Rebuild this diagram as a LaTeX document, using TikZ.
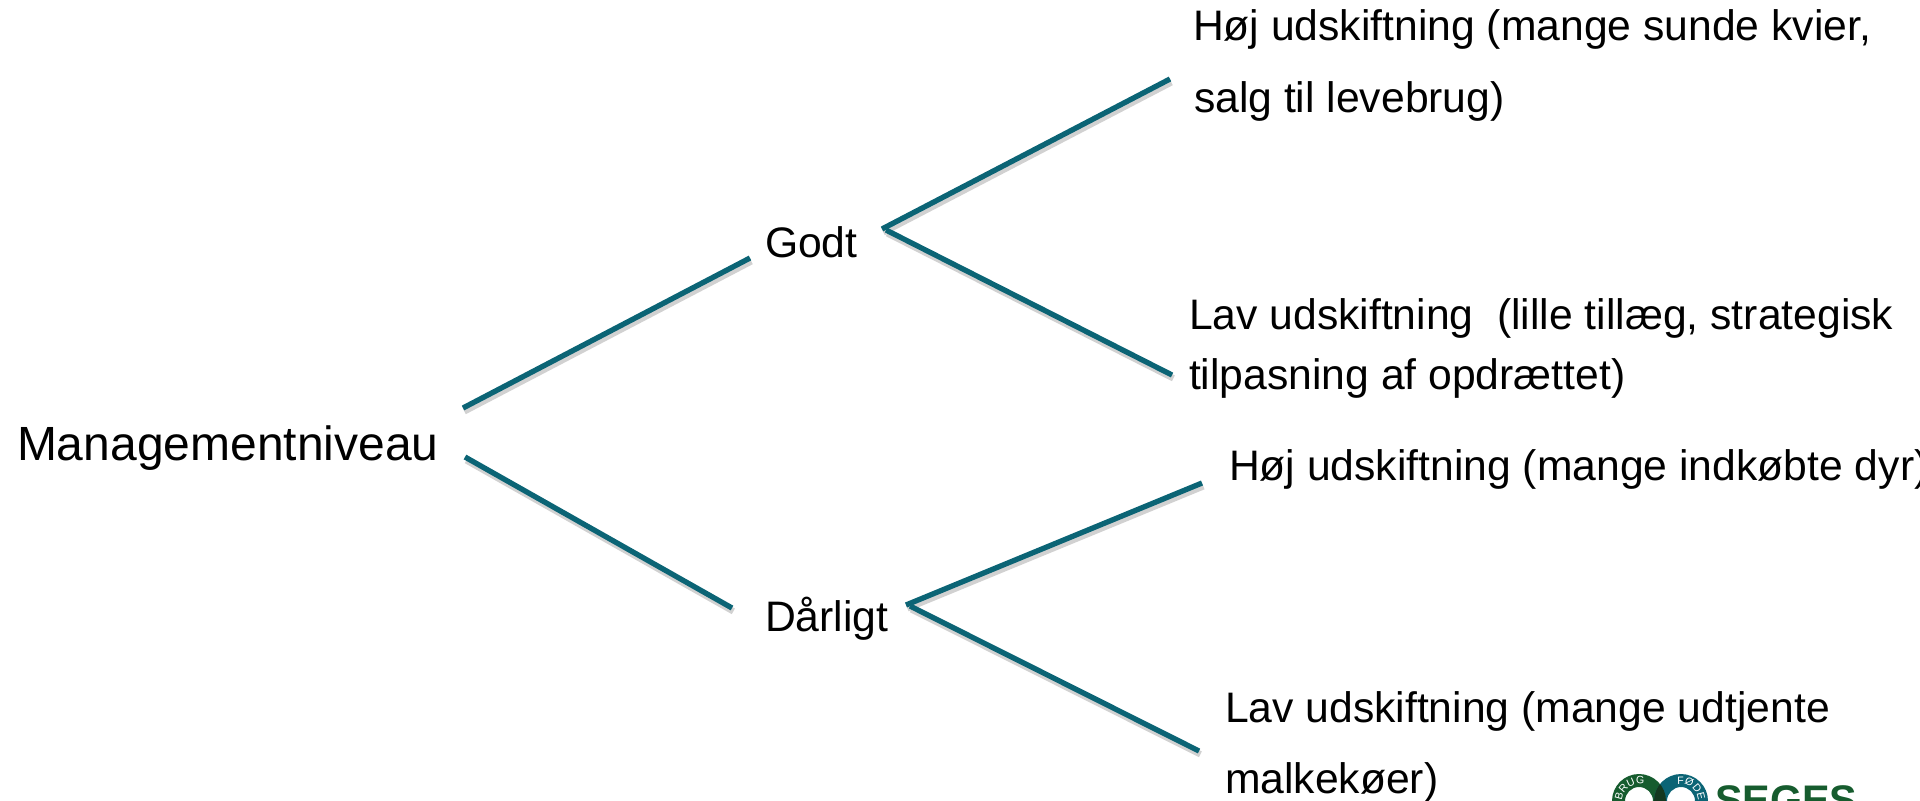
\documentclass[tikz,border=0pt]{standalone}
\usepackage{fontspec}
\setmainfont{Liberation Sans}
\usetikzlibrary{decorations.text}
\definecolor{teal1}{HTML}{0B6475}
\definecolor{segesg}{HTML}{165C2E}
\definecolor{segesd}{HTML}{14381F}
\tikzset{
  x=0.75pt,y=-0.75pt,
  branch/.style={draw=teal1,line width=4pt},
  shadowline/.style={draw=black,line width=4.8pt,opacity=.18},
  lab/.style={anchor=base west,inner sep=0pt,outer sep=0pt,font=\fontsize{36pt}{42pt}\selectfont,text=black},
  labsmall/.style={lab,font=\fontsize{32pt}{38pt}\selectfont},
  ringtext/.style={decorate,decoration={text along path,text align=center,
     text={|\fontsize{8pt}{9pt}\selectfont\color{white}|#1}}},
}
\begin{document}
\begin{tikzpicture}
\useasboundingbox (0,0) rectangle (1920,800);
\clip (0,0) rectangle (1920,800);
\coordinate (a1) at (463,408); \coordinate (a2) at (750,258);
\coordinate (b1) at (465,457); \coordinate (b2) at (732,608);
\coordinate (g0) at (882,229); \coordinate (g1) at (1170,79);
\coordinate (g3) at (886,230); \coordinate (g2) at (1172,375);
\coordinate (d0) at (906,605); \coordinate (d1) at (1202,483);
\coordinate (d3) at (910,606); \coordinate (d2) at (1199,751);
\foreach \p/\q in {a1/a2,b1/b2,g0/g1,g3/g2,d0/d1,d3/d2}{
  \draw[shadowline] ([xshift=1pt,yshift=-2.5pt]\p) -- ([xshift=1pt,yshift=-2.5pt]\q);
  \draw[branch] (\p) -- (\q);
}
\node[lab] (root) at (17,460) {Managementniveau};
\node[labsmall] (godt) at (765,257) {Godt};
\node[labsmall] (darligt) at (765,631) {Dårligt};
\node[labsmall] (t1) at (1193,40) {Høj udskiftning (mange sunde kvier,};
\node[labsmall] (t2) at (1194,112) {salg til levebrug)};
\node[labsmall] (t3) at (1189,329) {Lav udskiftning\ \ (lille tillæg, strategisk};
\node[labsmall] (t4) at (1189,389) {tilpasning af opdrættet)};
\node[labsmall] (t5) at (1229,480) {Høj udskiftning (mange indkøbte dyr)};
\node[labsmall] (t6) at (1225,722) {Lav udskiftning (mange udtjente};
\node[labsmall] (t7) at (1225,793) {malkekøer)};
% logo
\coordinate (cl) at (1639,801);
\coordinate (cr) at (1681,801);
\fill[segesg,even odd rule] (cl) circle[radius=27] (cl) circle[radius=14];
\fill[teal1,even odd rule] (cr) circle[radius=27] (cr) circle[radius=14];
\begin{scope}
  \clip (cl) circle[radius=27];
  \fill[segesd,even odd rule] (cr) circle[radius=27] (cr) circle[radius=14];
\end{scope}
\begin{scope}[shift={(cl)},y=0.75pt]
  \path[ringtext=BRUG] (215:17) arc[start angle=215,end angle=35,radius=17];
\end{scope}
\begin{scope}[shift={(cr)},y=0.75pt]
  \path[ringtext=FØDE] (142:17) arc[start angle=142,end angle=-38,radius=17];
\end{scope}
\node[anchor=base west,inner sep=0pt,outer sep=0pt,font=\fontsize{31pt}{36pt}\selectfont\bfseries,text=segesg] (seges) at (1715,814) {SEGES};
\end{tikzpicture}
\end{document}
